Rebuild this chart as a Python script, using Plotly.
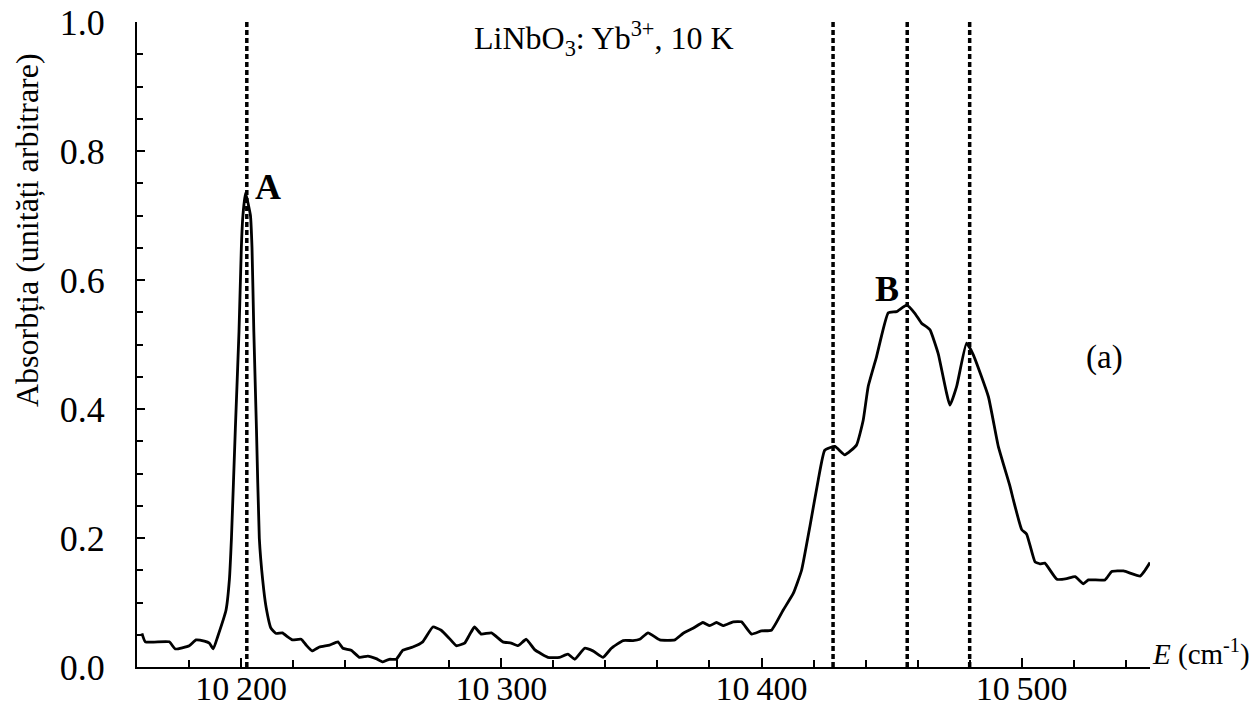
import plotly.graph_objects as go

# Spectrum (E in cm^-1, absorbance in arbitrary units)
energy = [10161.9, 10163.2, 10172.4, 10174.7, 10180.1, 10182.7, 10185.9, 10187.8, 10189.3, 10191.0,
          10194.2, 10195.5, 10196.3, 10197.8, 10199.2, 10200.1, 10200.7, 10201.7, 10203.6, 10204.2,
          10204.9, 10205.9, 10207.0, 10208.3, 10209.6, 10211.5, 10213.5, 10215.9, 10217.8, 10219.7,
          10223.1, 10225.0, 10227.3, 10230.1, 10234.0, 10237.2, 10239.1, 10242.3, 10245.5, 10248.7,
          10251.9, 10254.5, 10257.0, 10259.6, 10262.2, 10266.0, 10269.8, 10273.7, 10276.9, 10280.1,
          10282.7, 10285.9, 10287.8, 10289.7, 10292.3, 10296.2, 10300.6, 10303.8, 10306.4, 10309.6,
          10312.8, 10317.9, 10322.4, 10325.6, 10328.2, 10332.0, 10335.2, 10339.1, 10342.3, 10346.8,
          10350.6, 10353.2, 10356.4, 10360.9, 10366.7, 10369.8, 10373.7, 10377.5, 10380.1, 10382.7,
          10385.2, 10389.1, 10392.3, 10396.2, 10400.0, 10403.8, 10408.3, 10412.2, 10415.4, 10418.6,
          10421.8, 10424.3, 10428.2, 10432.0, 10436.5, 10439.1, 10441.0, 10444.2, 10448.7, 10451.9,
          10455.8, 10459.0, 10461.5, 10464.7, 10467.9, 10472.4, 10475.0, 10478.8, 10481.4, 10487.2,
          10491.0, 10495.5, 10496.8, 10500.0, 10501.9, 10505.1, 10507.0, 10508.9, 10513.5, 10517.3,
          10520.5, 10523.7, 10525.6, 10532.0, 10534.6, 10539.1, 10545.5, 10547.4, 10549.3]
absorbance = [0.052, 0.039, 0.039, 0.028, 0.033, 0.042, 0.040, 0.037, 0.028, 0.047,
              0.088, 0.135, 0.200, 0.370, 0.520, 0.650, 0.700, 0.735, 0.700, 0.650,
              0.520, 0.370, 0.200, 0.135, 0.093, 0.060, 0.052, 0.053, 0.047, 0.042,
              0.043, 0.034, 0.025, 0.031, 0.034, 0.039, 0.029, 0.026, 0.015, 0.017,
              0.013, 0.008, 0.012, 0.012, 0.026, 0.031, 0.039, 0.062, 0.057, 0.044,
              0.033, 0.037, 0.050, 0.062, 0.051, 0.053, 0.039, 0.037, 0.033, 0.043,
              0.027, 0.015, 0.015, 0.020, 0.012, 0.029, 0.025, 0.015, 0.029, 0.041,
              0.041, 0.043, 0.053, 0.042, 0.042, 0.052, 0.060, 0.069, 0.064, 0.069,
              0.064, 0.070, 0.070, 0.051, 0.056, 0.057, 0.088, 0.114, 0.150, 0.218,
              0.290, 0.336, 0.342, 0.329, 0.344, 0.383, 0.435, 0.481, 0.549, 0.551,
              0.561, 0.548, 0.533, 0.523, 0.486, 0.406, 0.435, 0.502, 0.484, 0.419,
              0.342, 0.280, 0.259, 0.213, 0.206, 0.163, 0.160, 0.161, 0.136, 0.137,
              0.140, 0.129, 0.135, 0.135, 0.148, 0.149, 0.141, 0.150, 0.162]

# Positions of the dotted marker lines
line_positions = [10202.2, 10427.5, 10456.0, 10480.0]

x_tick_values = [10200, 10300, 10400, 10500]
x_tick_labels = ["10\u2009200", "10\u2009300", "10\u2009400", "10\u2009500"]
y_tick_values = [0.0, 0.2, 0.4, 0.6, 0.8, 1.0]
y_tick_labels = ["0.0", "0.2", "0.4", "0.6", "0.8", "1.0"]

SERIF = "Liberation Serif, Times New Roman, serif"

W, H = 1256, 709
ML, MR, MT, MB = 137, 106, 22, 42

fig = go.Figure()

for p in line_positions:
    fig.add_trace(go.Scatter(x=[p, p], y=[0, 1], mode="lines",
                             line=dict(color="black", width=3.5, dash="5px,3px"),
                             hoverinfo="skip", showlegend=False))

fig.add_trace(go.Scatter(x=energy, y=absorbance, mode="lines",
                         line=dict(color="black", width=2.8, shape="spline", smoothing=0.4),
                         showlegend=False))

fig.update_layout(
    width=W, height=H,
    margin=dict(l=ML, r=MR, t=MT, b=MB, autoexpand=False),
    paper_bgcolor="white", plot_bgcolor="white",
    font=dict(family=SERIF, size=30, color="black"),
    xaxis=dict(range=[10160, 10549.3], showline=True, linecolor="black", linewidth=2,
               showgrid=False, zeroline=False, automargin=False,
               tickmode="array", tickvals=x_tick_values, ticktext=x_tick_labels,
               ticks="inside", ticklen=9, tickwidth=1.5, tickcolor="black",
               ticklabelstandoff=-10,
               minor=dict(tick0=10160, dtick=20, ticks="inside", ticklen=7,
                          tickwidth=1.5, tickcolor="black", showgrid=False),
               tickfont=dict(family=SERIF, size=34, color="black")),
    yaxis=dict(range=[0, 1.0], showline=True, linecolor="black", linewidth=2,
               showgrid=False, zeroline=False, automargin=False,
               tickmode="array", tickvals=y_tick_values, ticktext=y_tick_labels,
               ticks="inside", ticklen=8, tickwidth=1.5, tickcolor="black",
               ticklabelstandoff=23,
               minor=dict(tick0=0, dtick=0.05, ticks="inside", ticklen=6,
                          tickwidth=1.5, tickcolor="black", showgrid=False),
               tickfont=dict(family=SERIF, size=36, color="black")),
)

plot_w = W - ML - MR
plot_h = H - MT - MB

annotations = [
    dict(text="LiNbO<sub>3</sub>: Yb<sup>3+</sup>, 10 K", x=10339.3, y=0.975, xref="x", yref="y",
         showarrow=False, xanchor="center", yanchor="middle", font=dict(size=32)),
    dict(text="<b>A</b>", x=10210.5, y=0.744, xref="x", yref="y", showarrow=False,
         xanchor="center", yanchor="middle", font=dict(size=36)),
    dict(text="<b>B</b>", x=10448.2, y=0.586, xref="x", yref="y", showarrow=False,
         xanchor="center", yanchor="middle", font=dict(size=36)),
    dict(text="(a)", x=10532.0, y=0.48, xref="x", yref="y", showarrow=False,
         xanchor="center", yanchor="middle", font=dict(size=33)),
    dict(text="<i>E</i> (cm<sup>-1</sup>)", x=1.0, y=0.022, xref="paper", yref="y",
         showarrow=False, xanchor="left", yanchor="middle", xshift=1, borderpad=0,
         font=dict(size=29)),
    dict(text="Absorbția (unități arbitrare)", x=(27 - ML) / plot_w, y=(H - MB - 230) / plot_h,
         xref="paper", yref="paper", showarrow=False, textangle=-90,
         xanchor="center", yanchor="middle", font=dict(size=32)),
]
fig.update_layout(annotations=annotations)

fig.write_html("out.html", config={"displayModeBar": False},
               post_script="document.body.style.margin='0';document.body.style.overflow='hidden';")
